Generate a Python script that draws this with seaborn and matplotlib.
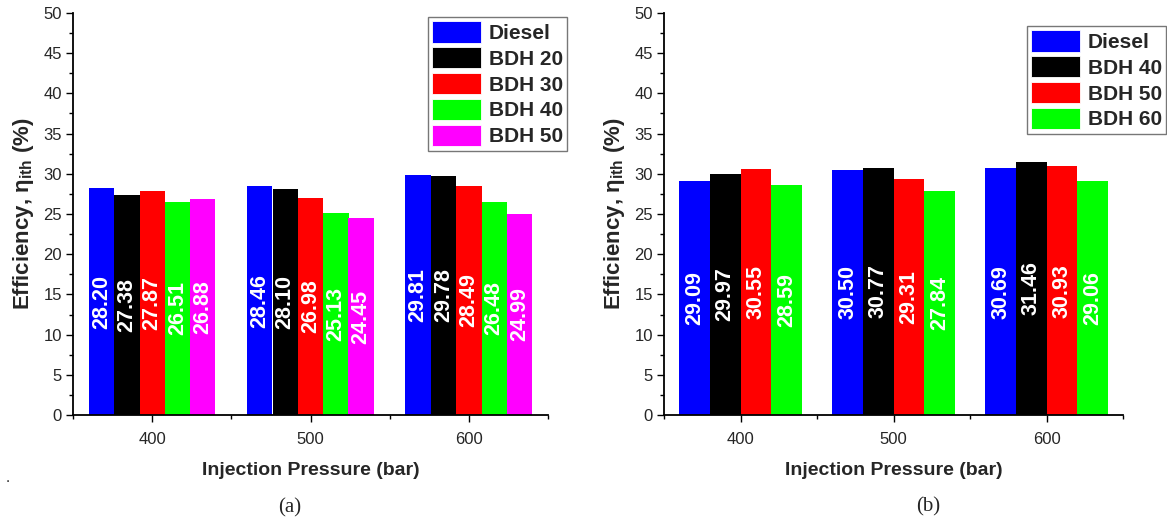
import matplotlib
matplotlib.use("Agg")
import matplotlib.pyplot as plt
import seaborn as sns
import pandas as pd
from matplotlib.patches import Patch
from matplotlib.ticker import MultipleLocator, FixedLocator

# ---- data ----
pressures = ["400", "500", "600"]

fuels_a = ["Diesel", "BDH 20", "BDH 30", "BDH 40", "BDH 50"]
diesel_a = [28.20, 28.46, 29.81]
bdh20_a = [27.38, 28.10, 29.78]
bdh30_a = [27.87, 26.98, 28.49]
bdh40_a = [26.51, 25.13, 26.48]
bdh50_a = [26.88, 24.45, 24.99]

fuels_b = ["Diesel", "BDH 40", "BDH 50", "BDH 60"]
diesel_b = [29.09, 30.50, 30.69]
bdh40_b = [29.97, 30.77, 31.46]
bdh50_b = [30.55, 29.31, 30.93]
bdh60_b = [28.59, 27.84, 29.06]

colors_a = ["#0000FF", "#000000", "#FF0000", "#00FF00", "#FF00FF"]
colors_b = ["#0000FF", "#000000", "#FF0000", "#00FF00"]

xlabel = "Injection Pressure (bar)"
ylabel = "Efficiency, \u03b7$_{\\mathbf{ith}}$ (%)"
panel_labels = ["(a)", "(b)"]

# ---- style ----
sns.set_style("white")
plt.rcParams["font.family"] = ["Liberation Sans", "DejaVu Sans"]
plt.rcParams["mathtext.fontset"] = "custom"
plt.rcParams["mathtext.rm"] = "Liberation Sans"
plt.rcParams["mathtext.bf"] = "Liberation Sans:bold"


def long_df(fuels, series):
    rows = []
    for f, vals in zip(fuels, series):
        for p, v in zip(pressures, vals):
            rows.append({"Pressure": p, "Fuel": f, "Eff": v})
    return pd.DataFrame(rows)


df_a = long_df(fuels_a, [diesel_a, bdh20_a, bdh30_a, bdh40_a, bdh50_a])
df_b = long_df(fuels_b, [diesel_b, bdh40_b, bdh50_b, bdh60_b])

W, H = 1167, 524
fig = plt.figure(figsize=(W / 100, H / 100), dpi=100)
ax_a = fig.add_axes([73 / W, 1 - 415 / H, (548 - 73) / W, 402 / H])
ax_b = fig.add_axes([664 / W, 1 - 415 / H, (1123 - 664) / W, 402 / H])


def draw(ax, df, fuels, colors, legend_anchor):
    sns.barplot(data=df, x="Pressure", y="Eff", hue="Fuel", order=pressures,
                hue_order=fuels, palette=colors, width=0.8, ax=ax,
                linewidth=0, saturation=1, legend=False, errorbar=None)
    for c in ax.containers:
        ax.bar_label(c, fmt="%.2f", label_type="center", rotation=90,
                     color="white", fontweight="bold", fontsize=15.5)
    ax.set_xlim(-0.5, 2.5)
    ax.set_ylim(0, 50)
    ax.yaxis.set_major_locator(MultipleLocator(5))
    ax.yaxis.set_minor_locator(MultipleLocator(2.5))
    ax.xaxis.set_minor_locator(FixedLocator([-0.5, 0.5, 1.5, 2.5]))
    for s in ["top", "right"]:
        ax.spines[s].set_visible(False)
    for s in ["left", "bottom"]:
        ax.spines[s].set_color("black")
        ax.spines[s].set_linewidth(1.3)
    ax.tick_params(axis="y", which="major", direction="out", length=5,
                   width=1, color="black", labelsize=12, pad=3, left=True)
    ax.tick_params(axis="x", which="major", direction="out", length=5,
                   width=1, color="black", labelsize=12, pad=7, bottom=True)
    ax.tick_params(axis="both", which="minor", direction="out", length=3,
                   width=1, color="black", bottom=True, left=True)
    ax.set_xlabel(xlabel, fontsize=14, fontweight="bold", labelpad=11)
    ax.set_ylabel(ylabel, fontsize=16, fontweight="bold", labelpad=5)
    handles = [Patch(facecolor=c, edgecolor="white", linewidth=0.6, label=f)
               for f, c in zip(fuels, colors)]
    leg = ax.legend(handles=handles, loc="upper right",
                    bbox_to_anchor=legend_anchor, bbox_transform=fig.transFigure,
                    prop={"weight": "bold", "size": 15}, handlelength=2.35,
                    handleheight=1.2, labelspacing=0.2, handletextpad=0.35,
                    borderpad=0.2, borderaxespad=0, fancybox=False,
                    framealpha=1, edgecolor="#777777")
    leg.get_frame().set_linewidth(1.0)


draw(ax_a, df_a, fuels_a, colors_a, (567 / W, 1 - 17 / H))
draw(ax_b, df_b, fuels_b, colors_b, (1166 / W, 1 - 26 / H))

fig.text(290 / W, 1 - 508 / H, panel_labels[0], ha="center", va="center",
         fontsize=15, family="Liberation Serif")
fig.text(928 / W, 1 - 507 / H, panel_labels[1], ha="center", va="center",
         fontsize=15, family="Liberation Serif")
fig.text(8 / W, 1 - 478 / H, ".", ha="center", va="center", fontsize=11)

fig.savefig("out.png", dpi=100)
